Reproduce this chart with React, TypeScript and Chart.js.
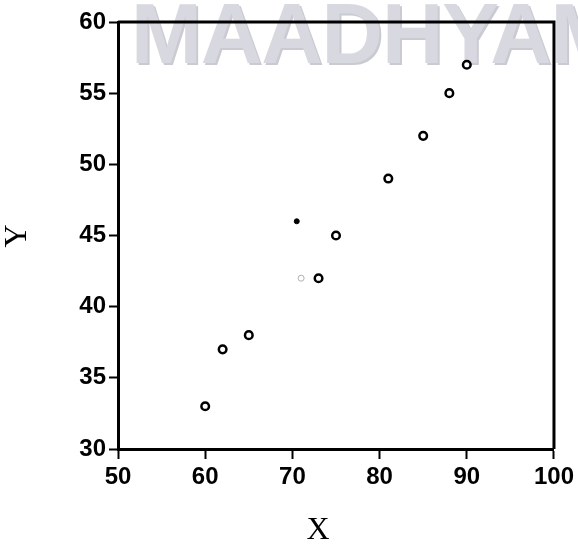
import React, { useEffect, useRef } from "react";
import { Chart, registerables } from "chart.js";

Chart.register(...registerables);

const xValues = [60, 62, 65, 73, 75, 81, 85, 88, 90];
const yValues = [33, 37, 38, 42, 45, 49, 52, 55, 57];
const smallDotX = [70.5];
const smallDotY = [46];
const faintX = [71];
const faintY = [42];
const xTicks = [50, 60, 70, 80, 90, 100];
const yTicks = [30, 35, 40, 45, 50, 55, 60];
const xTitle = "X";
const yTitle = "Y";
const watermark = "MAADHYAM";

export default function App() {
  const ref = useRef<HTMLCanvasElement | null>(null);
  useEffect(() => {
    if (!ref.current) return;
    const tickFont = { family: "Arial, 'Liberation Sans', sans-serif", size: 24, weight: "bold" as const };
    const decor = {
      id: "decor",
      beforeDraw(chart: any) {
        const ctx = chart.ctx;
        ctx.save();
        ctx.font = "bold 85px Arial, 'Liberation Sans', sans-serif";
        ctx.textBaseline = "alphabetic";
        ctx.textAlign = "left";
        try { (ctx as any).letterSpacing = "-1px"; } catch (e) {}
        ctx.fillStyle = "#cacad2";
        ctx.fillText(watermark, 133, 65);
        ctx.fillStyle = "#d8d8e0";
        ctx.fillText(watermark, 131, 63);
        ctx.restore();
      },
      afterDraw(chart: any) {
        const ctx = chart.ctx;
        const a = chart.chartArea;
        ctx.save();
        ctx.strokeStyle = "#000";
        ctx.lineWidth = 3;
        ctx.beginPath();
        ctx.moveTo(a.left, a.top);
        ctx.lineTo(a.right, a.top);
        ctx.lineTo(a.right, a.bottom);
        ctx.stroke();
        ctx.fillStyle = "#000";
        ctx.font = "32px 'Times New Roman', 'Liberation Serif', serif";
        ctx.textAlign = "center";
        ctx.textBaseline = "middle";
        ctx.fillText(xTitle, 318, 531);
        ctx.translate(18, 236);
        ctx.rotate(-Math.PI / 2);
        ctx.fillText(yTitle, 0, 0);
        ctx.restore();
      },
    };
    const chart = new Chart(ref.current, {
      type: "scatter",
      data: {
        datasets: [
          {
            data: faintX.map((x, i) => ({ x, y: faintY[i] })),
            pointRadius: 3,
            borderWidth: 1,
            borderColor: "#b0b0b0",
            backgroundColor: "#ffffff",
          },
          {
            data: xValues.map((x, i) => ({ x, y: yValues[i] })),
            pointRadius: 3.8,
            borderWidth: 2.5,
            borderColor: "#000000",
            backgroundColor: "#ffffff",
          },
          {
            data: smallDotX.map((x, i) => ({ x, y: smallDotY[i] })),
            pointRadius: 2.5,
            borderWidth: 1,
            borderColor: "#000000",
            backgroundColor: "#000000",
          },
        ],
      },
      options: {
        responsive: false,
        animation: false,
        layout: { padding: { left: 0, top: 22, right: 20, bottom: 0 } },
        plugins: { legend: { display: false }, tooltip: { enabled: false } },
        scales: {
          x: {
            type: "linear",
            min: 50,
            max: 100,
            afterBuildTicks: (s: any) => { s.ticks = xTicks.map((v) => ({ value: v })); },
            afterFit: (s: any) => { s.height = 99; },
            ticks: { color: "#000", font: tickFont, padding: 4, maxRotation: 0 },
            grid: { display: true, drawOnChartArea: false, drawTicks: true, tickLength: 10, tickWidth: 2, tickColor: "#000", color: "#000" },
            border: { display: true, color: "#000", width: 3 },
          },
          y: {
            type: "linear",
            min: 30,
            max: 60,
            afterBuildTicks: (s: any) => { s.ticks = yTicks.map((v) => ({ value: v })); },
            afterFit: (s: any) => { s.width = 118; },
            ticks: { color: "#000", font: tickFont, padding: 3 },
            grid: { display: true, drawOnChartArea: false, drawTicks: true, tickLength: 9, tickWidth: 2, tickColor: "#000", color: "#000" },
            border: { display: true, color: "#000", width: 3 },
          },
        },
      },
      plugins: [decor],
    } as any);
    return () => chart.destroy();
  }, []);
  return (
    <div style={{ position: "absolute", left: 0, top: 0, width: 578, height: 548, background: "#fff" }}>
      <canvas ref={ref} width={578} height={548} />
    </div>
  );
}
